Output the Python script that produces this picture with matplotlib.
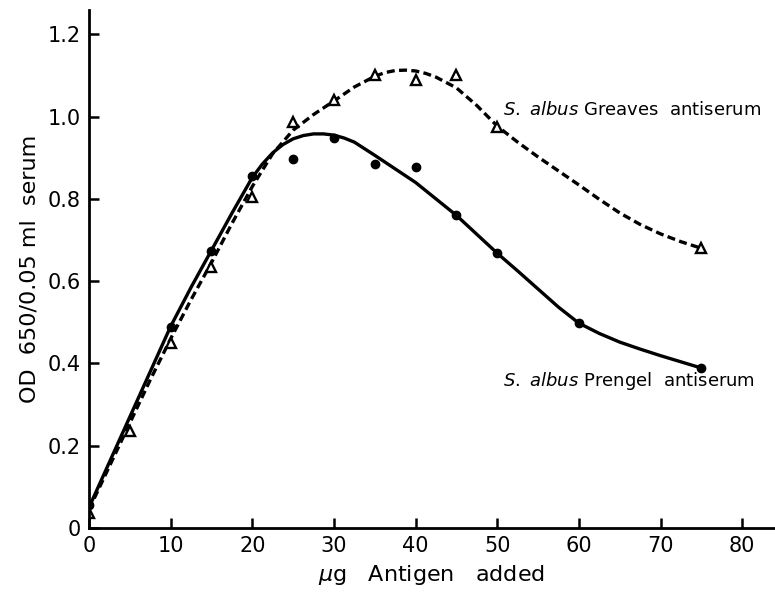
import matplotlib.pyplot as plt

# Punti misurati
x_prengel = [0, 10, 15, 20, 25, 30, 35, 40, 45, 50, 60, 75]
y_prengel = [0.055, 0.488, 0.673, 0.855, 0.896, 0.947, 0.885, 0.878, 0.761, 0.668, 0.498, 0.389]

x_greaves = [0, 5, 10, 15, 20, 25, 30, 35, 40, 45, 50, 75]
y_greaves = [0.036, 0.236, 0.45, 0.634, 0.805, 0.987, 1.04, 1.10, 1.089, 1.10, 0.975, 0.68]

# Curve tracciate a mano
x_curve_p = [0, 2.5, 5, 7.5, 10, 12.5, 15, 17.5, 20, 21.25, 22.5, 23.75, 25, 26.25, 27.5, 28.75,
             30, 31.25, 32.5, 33.75, 35, 37.5, 40, 42.5, 45, 47.5, 50, 52.5, 55, 57.5, 60,
             62.5, 65, 67.5, 70, 72.5, 75]
y_curve_p = [0.05, 0.16, 0.27, 0.38, 0.49, 0.585, 0.675, 0.765, 0.852, 0.885, 0.912, 0.932, 0.946,
             0.954, 0.958, 0.958, 0.955, 0.948, 0.938, 0.922, 0.906, 0.873, 0.840, 0.80, 0.76,
             0.714, 0.668, 0.625, 0.581, 0.537, 0.498, 0.473, 0.452, 0.435, 0.419, 0.404, 0.389]

x_curve_g = [0, 2.5, 5, 7.5, 10, 12.5, 15, 17.5, 20, 22.5, 25, 27.5, 30, 32.5, 35, 36.25, 37.5,
             38.75, 40, 41.25, 42.5, 45, 47.5, 50, 52.5, 55, 57.5, 60, 62.5, 65, 67.5, 70,
             72.5, 75]
y_curve_g = [0.045, 0.15, 0.255, 0.36, 0.46, 0.555, 0.645, 0.74, 0.83, 0.91, 0.967, 1.005, 1.038,
             1.072, 1.098, 1.107, 1.112, 1.113, 1.111, 1.105, 1.096, 1.07, 1.027, 0.977, 0.938,
             0.902, 0.868, 0.834, 0.799, 0.766, 0.738, 0.715, 0.696, 0.68]

plt.rcParams['font.family'] = ['DejaVu Sans']
plt.rcParams['mathtext.fontset'] = 'dejavusans'

fig = plt.figure(figsize=(7.75, 5.92), dpi=100)
ax = fig.add_axes([0.1148, 0.108, 0.885, 0.875])

ax.plot(x_curve_p, y_curve_p, color='black', linewidth=2.4, solid_joinstyle='round')
ax.plot(x_curve_g, y_curve_g, color='black', linewidth=2.4, linestyle=(0, (2.4, 1.3)))
ax.plot(x_prengel, y_prengel, 'o', color='black', markersize=6, linestyle='none')
ax.plot(x_greaves, y_greaves, '^', markerfacecolor='white', markeredgecolor='black',
        markeredgewidth=1.7, markersize=7.5, linestyle='none')

ax.text(50.7, 1.016, r"$\mathit{S.\ albus}$ Greaves  antiserum", fontsize=13, va='center', ha='left')
ax.text(50.7, 0.357, r"$\mathit{S.\ albus}$ Prengel  antiserum", fontsize=13, va='center', ha='left')

ax.set_xlim(0, 84)
ax.set_ylim(0, 1.259)
ax.set_xticks([0, 10, 20, 30, 40, 50, 60, 70, 80])
ax.set_yticks([0, 0.2, 0.4, 0.6, 0.8, 1.0, 1.2])
ax.set_yticklabels(['0', '0.2', '0.4', '0.6', '0.8', '1.0', '1.2'])

for s in ['top', 'right']:
    ax.spines[s].set_visible(False)
ax.spines['left'].set_linewidth(2)
ax.spines['bottom'].set_linewidth(2)
ax.tick_params(direction='in', length=7, width=1.8, labelsize=15, pad=6)

ax.set_xlabel(r"$\mu$g   Antigen   added", fontsize=16, labelpad=5)
ax.set_ylabel("OD  650/0.05 ml  serum", fontsize=16, labelpad=6)

plt.savefig("out.png", dpi=100)
plt.close()
